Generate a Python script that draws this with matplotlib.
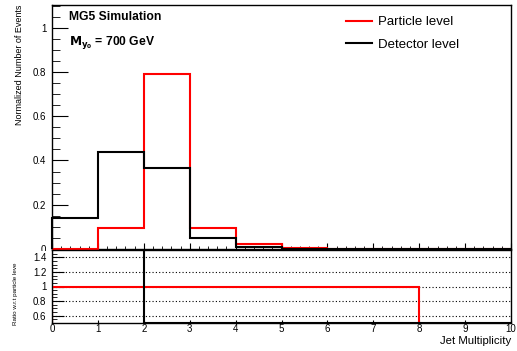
import numpy as np
import matplotlib.pyplot as plt
from matplotlib.ticker import MultipleLocator
from matplotlib.patches import Rectangle

plt.rcParams['font.family'] = ['Liberation Sans', 'DejaVu Sans']

# binning: jet multiplicity 0..10
bin_edges = np.arange(0, 11)
particle = [0.0, 0.095, 0.79, 0.093, 0.022, 0.005, 0.0, 0.0, 0.0, 0.0]
detector = [0.141, 0.44, 0.366, 0.051, 0.01, 0.0, 0.0, 0.0, 0.0, 0.0]
ratio_particle = [1, 1, 1, 1, 1, 1, 1, 1, 0, 0]
ratio_detector = [2.0, 4.6, 0.47, 0.0, 0.0, 0.0, 0.0, 0.0, 0.0, 0.0]

W, H = 517, 351
fig = plt.figure(figsize=(W / 100, H / 100), dpi=100)

def fx(px):
    return px / W

def fy(py):
    return 1 - py / H

ax = fig.add_axes([fx(52), fy(249), fx(511) - fx(52), fy(4.5) - fy(249)])
axr = fig.add_axes([fx(52), fy(323), fx(511) - fx(52), fy(250) - fy(323)])
ax.set_zorder(1)
axr.set_zorder(3)

# white strip under the main pad (ratio pad covers the lower half of the "0" label)
fig.patches.append(Rectangle((0, 0), fx(52), fy(250.5), transform=fig.transFigure,
                             facecolor='white', edgecolor='none', zorder=2))

ax.stairs(particle, bin_edges, color='#ff0000', lw=1.5, label='Particle level',
          clip_on=False, zorder=5)
ax.stairs(detector, bin_edges, color='black', lw=1.5, label='Detector level',
          clip_on=False, zorder=6)
ax.set_xlim(0, 10)
ax.set_ylim(0, 1.105)
ax.yaxis.set_minor_locator(MultipleLocator(0.05))
ax.xaxis.set_major_locator(MultipleLocator(1))
ax.xaxis.set_minor_locator(MultipleLocator(0.2))
ax.set_yticks([0, 0.2, 0.4, 0.6, 0.8, 1.0])
ax.set_yticklabels(['0', '0.2', '0.4', '0.6', '0.8', '1'])
ax.tick_params(axis='both', which='both', direction='in', labelsize=7, top=False, right=False)
ax.tick_params(axis='y', which='major', length=11.5, pad=4)
ax.tick_params(axis='y', which='minor', length=6)
ax.tick_params(axis='x', which='major', length=4.3, labelbottom=False)
ax.tick_params(axis='x', which='minor', length=2.2)

ax.legend(loc='upper left', bbox_to_anchor=(0.62, 0.99), frameon=False,
          fontsize=9.5, handlelength=2.0, handletextpad=0.45, labelspacing=0.75,
          borderaxespad=0.3)

ax.text(0.037, 0.975, 'MG5 Simulation', transform=ax.transAxes, fontsize=8.7,
        fontweight='bold', va='top')
ax.text(0.037, 0.88, r'$\mathbf{M_{y_0}}$ = 700 GeV', transform=ax.transAxes, fontsize=8.7,
        fontweight='bold', va='top')

axr.stairs(np.clip(ratio_particle, 0.45, 1.55), bin_edges, color='#ff0000', lw=1.5, zorder=3)
axr.stairs(np.clip(ratio_detector, 0.45, 1.55), bin_edges, color='black', lw=1.5, zorder=4)
axr.axhline(0.5, color='black', lw=1.5, zorder=4, xmin=0.2)
for yv in [0.6, 0.8, 1.0, 1.2, 1.4]:
    axr.axhline(yv, color='black', ls=(0, (1, 2)), lw=0.8, zorder=1)
axr.set_xlim(0, 10)
axr.set_ylim(0.5, 1.5)
axr.yaxis.set_minor_locator(MultipleLocator(0.05))
axr.set_yticks([0.6, 0.8, 1.0, 1.2, 1.4])
axr.set_yticklabels(['0.6', '0.8', '1', '1.2', '1.4'])
axr.xaxis.set_major_locator(MultipleLocator(1))
axr.tick_params(axis='both', which='both', direction='in', labelsize=7, top=False, right=False)
axr.tick_params(axis='y', which='major', length=8.5, pad=4)
axr.tick_params(axis='y', which='minor', length=3.6)
axr.tick_params(axis='x', which='major', length=2.5, pad=1)
axr.tick_params(axis='x', which='minor', length=0)

for a in (ax, axr):
    for s in a.spines.values():
        s.set_linewidth(1.0)

fig.text(fx(20), fy(5), 'Normalized Number of Events', rotation=90, fontsize=6.5,
         ha='center', va='top')
fig.text(fx(16), fy(325), 'Ratio w.r.t particle leve', rotation=90, fontsize=4.5,
         ha='center', va='bottom')
fig.text(fx(511), fy(336.5), 'Jet Multiplicity', fontsize=8.2, ha='right', va='top')

fig.savefig('out.png', dpi=100)
